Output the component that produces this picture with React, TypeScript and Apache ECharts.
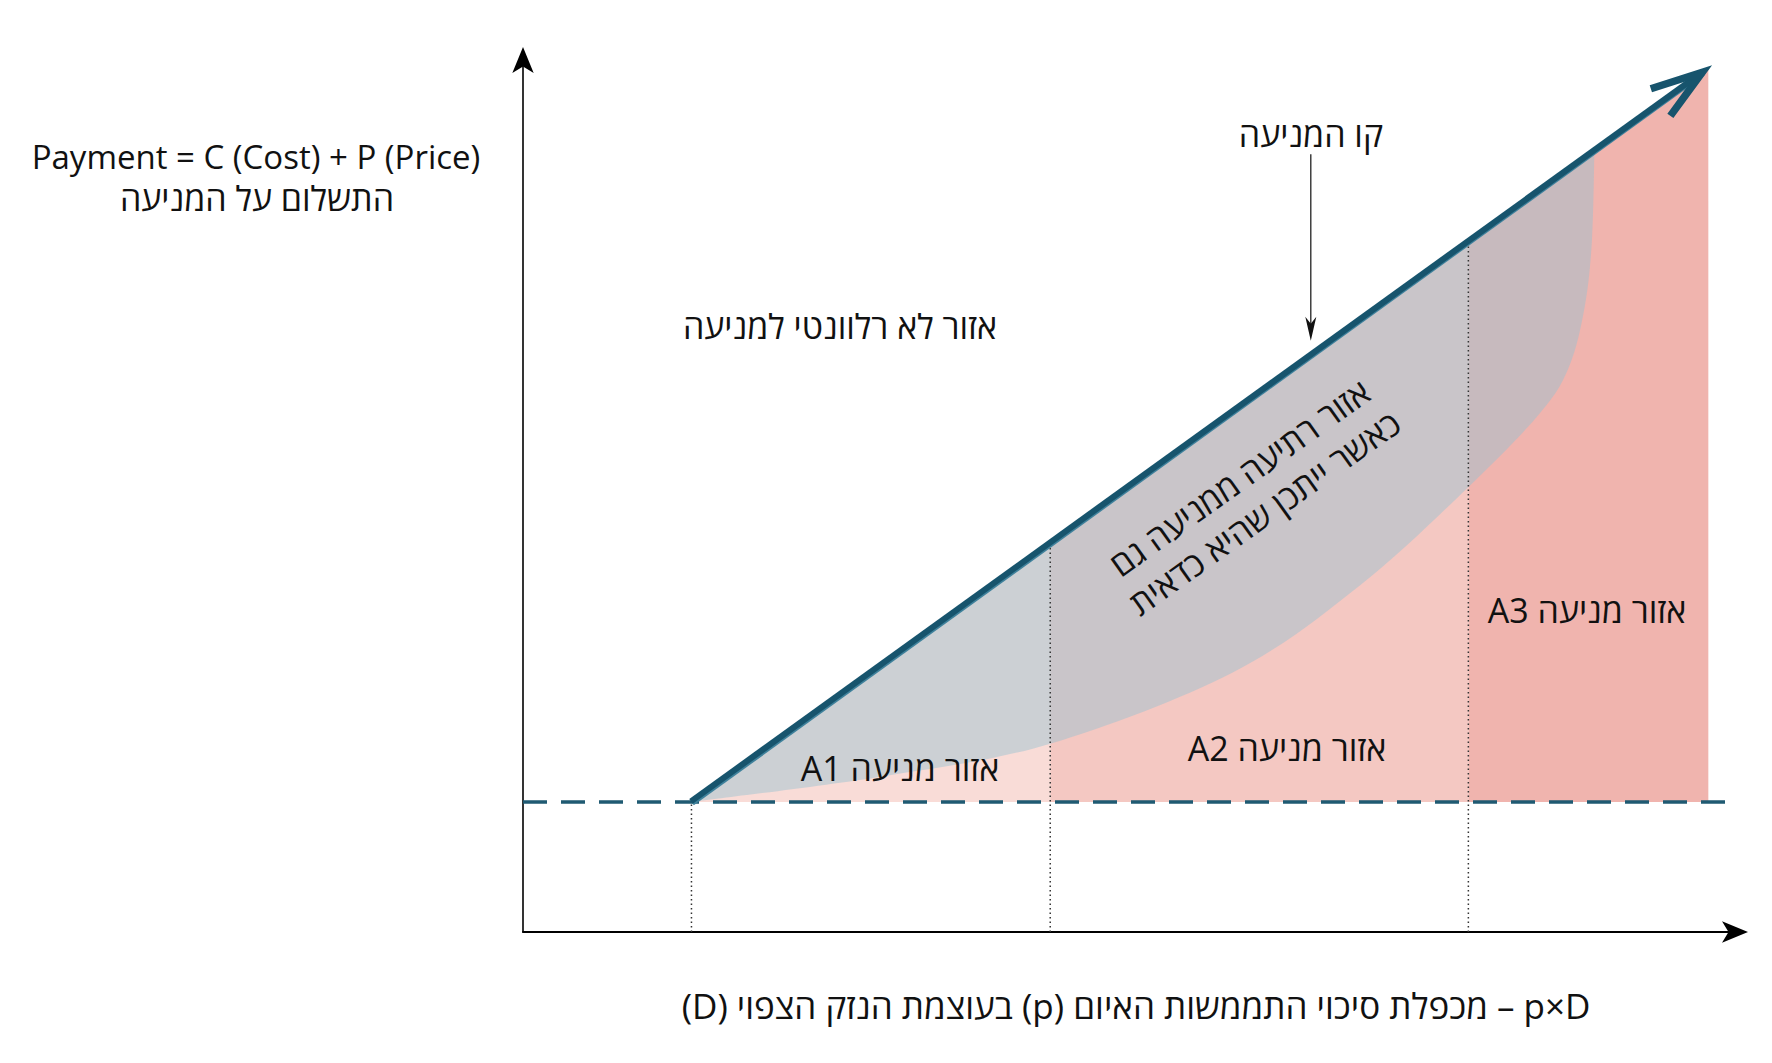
import { useEffect, useRef } from 'react'
import * as echarts from 'echarts'

// conceptual units on both axes
const axisMax = 100

// threshold level (dashed) and the prevention line
const thresholdY = 14.9
const lineX = [13.9, 98.1]
const lineY = [14.9, 99.4]

// prevention zones A1..A3: x borders and height of the prevention line at each border
const zoneX = [13.9, 43.5, 78.0, 97.8]
const zoneTop = [14.9, 44.7, 79.2, 99.1]
const zoneColors = ['#f9dcd7', '#f4c8c2', '#f0b4ae']

// lower edge of the deterrence area
const curveX = [13.9, 29.9, 43.5, 58.6, 69.1, 77.9, 83.9, 86.3, 87.6, 88.2, 88.4]
const curveY = [14.9, 17.9, 21.6, 29.8, 39.8, 50.9, 59.5, 64.8, 71.7, 79.4, 89.6]

// dotted guides down to the x axis
const guideX = [13.9, 43.5, 78.0]
const guideTop = [14.9, 44.7, 79.2]

// pointer from the label to the prevention line
const pointerX = 65.0
const pointerY = [89.2, 67.8]

const font = '"Open Sans", "Liberation Sans", "DejaVu Sans", sans-serif'

// catmull-rom through the points -> svg path commands
const smoothPath = (pts: number[][]): string => {
  let d = ''
  for (let i = 0; i < pts.length - 1; i++) {
    const p0 = pts[Math.max(i - 1, 0)]
    const p1 = pts[i]
    const p2 = pts[i + 1]
    const p3 = pts[Math.min(i + 2, pts.length - 1)]
    const c1 = [p1[0] + (p2[0] - p0[0]) / 6, p1[1] + (p2[1] - p0[1]) / 6]
    const c2 = [p2[0] - (p3[0] - p1[0]) / 6, p2[1] - (p3[1] - p1[1]) / 6]
    d += ` C ${c1[0]} ${c1[1]} ${c2[0]} ${c2[1]} ${p2[0]} ${p2[1]}`
  }
  return d
}

const label = (text: string, x: number, y: number, size: number, extra: any = {}) => ({
  type: 'text',
  x,
  y,
  z: 100,
  ...extra,
  style: {
    text,
    x: 0,
    y: 0,
    align: 'center',
    verticalAlign: 'middle',
    fontSize: size,
    fontWeight: 500,
    fontFamily: font,
    fill: '#111',
    ...(extra.style || {})
  }
})

const App: React.FC = () => {
  const chartRef = useRef<HTMLDivElement | null>(null)

  useEffect(() => {
    if (chartRef.current === null) return
    const chart = echarts.init(chartRef.current, null, { renderer: 'svg' })

    const axisCommon = {
      type: 'value',
      min: 0,
      max: axisMax,
      axisTick: { show: false },
      axisLabel: { show: false },
      splitLine: { show: false }
    }

    const option = {
      animation: false,
      backgroundColor: '#fff',
      grid: { left: 523, right: 37, top: 60, bottom: 131 },
      xAxis: {
        ...axisCommon,
        axisLine: {
          show: true,
          symbol: ['none', 'arrow'],
          symbolSize: [16, 26],
          symbolOffset: [0, 13],
          lineStyle: { color: '#000', width: 2 }
        }
      },
      yAxis: {
        ...axisCommon,
        axisLine: {
          show: true,
          symbol: ['none', 'arrow'],
          symbolSize: [16, 26],
          symbolOffset: [0, 13],
          lineStyle: { color: '#000', width: 1.6 }
        }
      },
      series: [
        // pink prevention zones under the line
        {
          type: 'custom',
          silent: true,
          z: 1,
          data: zoneColors.map((_, i) => [zoneX[i], zoneTop[i]]),
          renderItem: (params: any, api: any) => {
            const i = params.dataIndex
            return {
              type: 'polygon',
              shape: {
                points: [
                  api.coord([zoneX[i], thresholdY]),
                  api.coord([zoneX[i], zoneTop[i]]),
                  api.coord([zoneX[i + 1], zoneTop[i + 1]]),
                  api.coord([zoneX[i + 1], thresholdY])
                ]
              },
              style: { fill: zoneColors[i] }
            }
          }
        },
        // deterrence area between the line and the curve
        {
          type: 'custom',
          silent: true,
          z: 2,
          data: [[curveX[0], curveY[0]]],
          renderItem: (_params: any, api: any) => {
            const pts = curveX.map((x, i) => api.coord([x, curveY[i]]))
            const last = pts[pts.length - 1]
            const back = pts.slice().reverse()
            const d = `M ${pts[0][0]} ${pts[0][1]} L ${last[0]} ${last[1]}` + smoothPath(back) + ' Z'
            return {
              type: 'path',
              shape: { pathData: d },
              style: { fill: 'rgba(150,195,210,0.46)' }
            }
          }
        },
        // dotted guides
        {
          type: 'custom',
          silent: true,
          z: 3,
          data: guideX.map((x, i) => [x, guideTop[i]]),
          renderItem: (params: any, api: any) => {
            const i = params.dataIndex
            const a = api.coord([guideX[i], 0])
            const b = api.coord([guideX[i], guideTop[i]])
            return {
              type: 'line',
              shape: { x1: a[0], y1: a[1], x2: b[0], y2: b[1] },
              style: { stroke: '#333', lineWidth: 1.5, lineDash: [1.5, 3] }
            }
          }
        },
        // dashed threshold
        {
          type: 'line',
          silent: true,
          z: 4,
          clip: false,
          symbol: 'none',
          data: [[0, thresholdY], [axisMax + 0.6, thresholdY]],
          lineStyle: { color: '#1f5a72', width: 3.5, type: [24, 14] }
        },
        // prevention line with open arrow head
        {
          type: 'custom',
          silent: true,
          z: 5,
          data: [[lineX[1], lineY[1]]],
          renderItem: (_params: any, api: any) => {
            const p0 = api.coord([lineX[0], lineY[0]])
            const p1 = api.coord([lineX[1], lineY[1]])
            const dx = p1[0] - p0[0]
            const dy = p1[1] - p0[1]
            const len = Math.hypot(dx, dy)
            const ux = dx / len
            const uy = dy / len
            const nx = -uy
            const ny = ux
            const tip = [p1[0] - ux * 12, p1[1] - uy * 12]
            const arm = (ang: number) => {
              const c = Math.cos(ang)
              const s = Math.sin(ang)
              const bx = -ux
              const by = -uy
              return [tip[0] + (bx * c - by * s) * 54, tip[1] + (bx * s + by * c) * 54]
            }
            const a = (18 * Math.PI) / 180
            return {
              type: 'group',
              children: [
                {
                  type: 'line',
                  shape: { x1: p0[0] + nx * 2.5, y1: p0[1] + ny * 2.5, x2: tip[0] + nx * 2.5, y2: tip[1] + ny * 2.5 },
                  style: { stroke: '#3f819b', lineWidth: 3 }
                },
                {
                  type: 'line',
                  shape: { x1: p0[0] - nx * 0.8, y1: p0[1] - ny * 0.8, x2: tip[0], y2: tip[1] },
                  style: { stroke: '#17546d', lineWidth: 6 }
                },
                {
                  type: 'polyline',
                  shape: { points: [arm(a), tip, arm(-a)] },
                  style: { stroke: '#17546d', lineWidth: 7.5, fill: 'none', lineJoin: 'miter', miterLimit: 12 }
                }
              ]
            }
          }
        },
        // pointer arrow from the label
        {
          type: 'custom',
          silent: true,
          z: 6,
          data: [[pointerX, pointerY[1]]],
          renderItem: (_params: any, api: any) => {
            const top = api.coord([pointerX, pointerY[0]])
            const tip = api.coord([pointerX, pointerY[1]])
            return {
              type: 'group',
              children: [
                {
                  type: 'line',
                  shape: { x1: top[0], y1: top[1], x2: tip[0], y2: tip[1] - 10 },
                  style: { stroke: '#222', lineWidth: 1.3 }
                },
                {
                  type: 'polygon',
                  shape: {
                    points: [
                      tip,
                      [tip[0] - 5.5, tip[1] - 24],
                      [tip[0], tip[1] - 17],
                      [tip[0] + 5.5, tip[1] - 24]
                    ]
                  },
                  style: { fill: '#111' }
                }
              ]
            }
          }
        }
      ],
      graphic: [
        label('Payment = C (Cost) + P (Price)', 256, 156, 33),
        label('התשלום על המניעה', 257, 198, 34),
        label('אזור לא רלוונטי למניעה', 840, 326, 34),
        label('קו המניעה', 1311, 134, 34),
        label('אזור רתיעה ממניעה גם\nכאשר ייתכן שהיא כדאית', 1252, 495, 34, {
          rotation: (35.5 * Math.PI) / 180,
          style: { lineHeight: 43 }
        }),
        label('A1 אזור מניעה', 900, 768, 34),
        label('A2 אזור מניעה', 1287, 748, 34),
        label('A3 אזור מניעה', 1587, 610, 34),
        label('\u202Bp×D – מכפלת סיכוי התממשות האיום (p) בעוצמת הנזק הצפוי (D)\u202C', 1136, 1005, 35)
      ]
    }

    chart.setOption(option as any)
    return () => {
      chart.dispose()
    }
  }, [])

  return (
    <div
      ref={chartRef}
      style={{ position: 'fixed', left: 0, top: 0, width: 1772, height: 1063, background: '#fff' }}
    ></div>
  )
}

export default App
